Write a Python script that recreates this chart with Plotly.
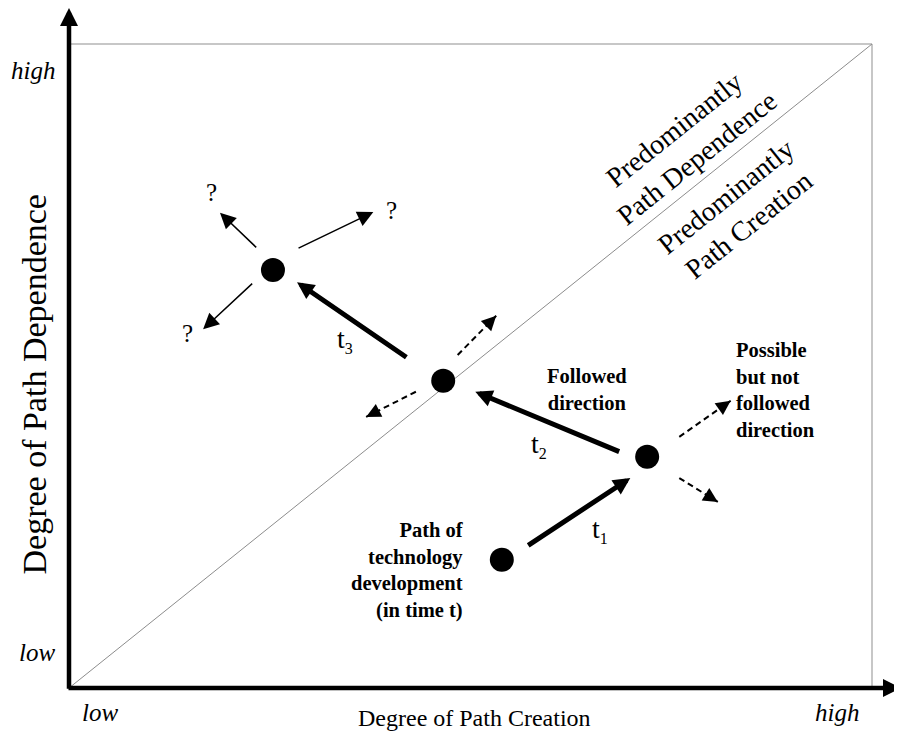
import math
import plotly.graph_objects as go

FONT = "Liberation Serif, Times New Roman, serif"

# ---- data (unit square: x = degree of path creation, y = degree of path dependence)
node_x = [0.539, 0.720, 0.466, 0.254]
node_y = [0.199, 0.359, 0.477, 0.649]

# followed path (solid thick arrows): tail -> head
path_labels = ["t<sub>1</sub>", "t<sub>2</sub>", "t<sub>3</sub>"]
path_tail_x = [0.570, 0.687, 0.422]
path_tail_y = [0.220, 0.366, 0.512]
path_head_x = [0.699, 0.506, 0.284]
path_head_y = [0.326, 0.460, 0.630]
path_label_x = [0.649, 0.573, 0.331]
path_label_y = [0.245, 0.377, 0.540]

# uncertain future directions (thin arrows with "?")
q_tail_x = [0.235, 0.284, 0.230]
q_tail_y = [0.682, 0.682, 0.630]
q_head_x = [0.188, 0.379, 0.167]
q_head_y = [0.738, 0.739, 0.557]
q_label_x = [0.178, 0.402, 0.148]
q_label_y = [0.770, 0.742, 0.551]

# possible but not followed directions (dashed arrows)
d_tail_x = [0.484, 0.432, 0.760, 0.760]
d_tail_y = [0.517, 0.460, 0.390, 0.326]
d_head_x = [0.532, 0.370, 0.824, 0.808]
d_head_y = [0.578, 0.421, 0.446, 0.289]

x_title = "Degree of Path Creation"
y_title = "Degree of Path Dependence"
tick_low, tick_high = "low", "high"

# figure geometry: page has an 8px body margin, figure 894x730 placed at (8, 8)
W, H = 894, 730
X0_PX, Y0_PX = 61, 680          # figure pixel of the origin (0, 0)
PX_X, PX_Y = 803, 644           # pixels per unit along x and y

fig = go.Figure()

# dashed arrow shafts
for tx, ty, hx, hy in zip(d_tail_x, d_tail_y, d_head_x, d_head_y):
    fig.add_trace(go.Scatter(
        x=[tx, hx], y=[ty, hy], mode="lines",
        line=dict(color="black", width=2, dash="6px,4px"),
        hoverinfo="skip", showlegend=False))

# nodes
fig.add_trace(go.Scatter(x=node_x, y=node_y, mode="markers",
                         marker=dict(size=24, color="black"),
                         hoverinfo="skip", showlegend=False))

ann = []
# axes arrows (horizontal one runs off the right edge, as in the original)
ann.append(dict(x=(W + 7) / W, y=(H - Y0_PX) / H, xref="paper", yref="paper",
                ax=-(W + 7 - (X0_PX - 2)), ay=0,
                text="", showarrow=True, arrowhead=2, arrowsize=0.8, arrowwidth=4.5,
                arrowcolor="black", standoff=0, startstandoff=0))
ann.append(dict(x=0, y=1.0559, ax=0, ay=-0.0035, xref="x", yref="y", axref="x", ayref="y",
                text="", showarrow=True, arrowhead=2, arrowsize=0.8, arrowwidth=4.5,
                arrowcolor="black", standoff=0, startstandoff=0))

# dashed arrowheads (short solid arrow hidden under its own head)
for tx, ty, hx, hy in zip(d_tail_x, d_tail_y, d_head_x, d_head_y):
    dxp = (hx - tx) * PX_X
    dyp = -(hy - ty) * PX_Y
    L = math.hypot(dxp, dyp)
    ann.append(dict(x=hx, y=hy, ax=-dxp / L * 9, ay=-dyp / L * 9, xref="x", yref="y",
                    text="", showarrow=True, arrowhead=2, arrowsize=1.45, arrowwidth=2,
                    arrowcolor="black", standoff=0, startstandoff=0))

# followed path arrows
for tx, ty, hx, hy, lab, lx, ly in zip(path_tail_x, path_tail_y, path_head_x, path_head_y,
                                       path_labels, path_label_x, path_label_y):
    ann.append(dict(x=hx, y=hy, ax=tx, ay=ty, xref="x", yref="y", axref="x", ayref="y",
                    text="", showarrow=True, arrowhead=2, arrowsize=0.68, arrowwidth=5,
                    arrowcolor="black", standoff=0, startstandoff=0))
    ann.append(dict(x=lx, y=ly, xref="x", yref="y",
                    text=lab.replace("<sub>", "<sub><span style='font-size:16px'>").replace("</sub>", "</span></sub>"),
                    showarrow=False, xanchor="left", yanchor="middle",
                    font=dict(family=FONT, size=28, color="black")))

# question arrows
for tx, ty, hx, hy, lx, ly in zip(q_tail_x, q_tail_y, q_head_x, q_head_y, q_label_x, q_label_y):
    ann.append(dict(x=hx, y=hy, ax=tx, ay=ty, xref="x", yref="y", axref="x", ayref="y",
                    text="", showarrow=True, arrowhead=2, arrowsize=2.1, arrowwidth=1.5,
                    arrowcolor="black", standoff=0, startstandoff=0))
    ann.append(dict(x=lx, y=ly, xref="x", yref="y", text="?", showarrow=False,
                    font=dict(family=FONT, size=25, color="black")))

# explanatory text
bold = dict(family=FONT, size=20.5, color="black", weight="bold")
ann.append(dict(x=0.494, y=0.183, xref="x", yref="y",
                text="Path of<br>technology<br>development<br>(in time t)",
                showarrow=False, xanchor="right", yanchor="middle", align="right", font=bold))
ann.append(dict(x=0.645, y=0.463, xref="x", yref="y", text="Followed<br>direction",
                showarrow=False, xanchor="center", yanchor="middle", align="center", font=bold))
ann.append(dict(x=0.828, y=0.463, xref="x", yref="y",
                text="Possible<br>but not<br>followed<br>direction",
                showarrow=False, xanchor="left", yanchor="middle", align="left", font=bold))

# regime labels along the diagonal
diag = dict(family=FONT, size=28, color="black")
ann.append(dict(x=0.768, y=0.845, xref="x", yref="y", text="Predominantly<br>Path Dependence",
                showarrow=False, textangle=-38.7, font=diag))
ann.append(dict(x=0.8325, y=0.7407, xref="x", yref="y", text="Predominantly<br>Path Creation",
                showarrow=False, textangle=-38.7, font=diag))

# axis tick words and titles
ital = dict(family=FONT, size=25, color="black", style="italic")
ann.append(dict(x=-0.0149, y=0.9596, xref="x", yref="y", text=tick_high, showarrow=False,
                xanchor="right", font=ital))
ann.append(dict(x=-0.0149, y=0.0559, xref="x", yref="y", text=tick_low, showarrow=False,
                xanchor="right", font=ital))
ann.append(dict(x=0.0386, y=-0.0388, xref="x", yref="y", text=tick_low, showarrow=False, font=ital))
ann.append(dict(x=0.956, y=-0.0388, xref="x", yref="y", text=tick_high, showarrow=False, font=ital))
ann.append(dict(x=0.505, y=-0.0466, xref="x", yref="y", text=x_title, showarrow=False,
                font=dict(family=FONT, size=24, color="black")))
ann.append(dict(x=-0.0442, y=0.4705, xref="x", yref="y", text=y_title, showarrow=False,
                textangle=-90, font=dict(family=FONT, size=34, color="black")))

shapes = [
    dict(type="line", x0=0, y0=1, x1=1, y1=1, xref="x", yref="y",
         line=dict(color="#b4b4b4", width=1.5), layer="below"),
    dict(type="line", x0=1, y0=0, x1=1, y1=1, xref="x", yref="y",
         line=dict(color="#b4b4b4", width=1.5), layer="below"),
    dict(type="line", x0=0, y0=0, x1=1, y1=1, xref="x", yref="y",
         line=dict(color="#8c8c8c", width=1), layer="below"),
]

fig.update_layout(
    width=W, height=H,
    margin=dict(l=0, r=0, t=0, b=0),
    paper_bgcolor="white", plot_bgcolor="white",
    xaxis=dict(range=[-X0_PX / PX_X, (W - X0_PX) / PX_X], visible=False, fixedrange=True),
    yaxis=dict(range=[-(H - Y0_PX) / PX_Y, Y0_PX / PX_Y], visible=False, fixedrange=True),
    annotations=ann, shapes=shapes, showlegend=False,
)

fig.write_html("out.html")
